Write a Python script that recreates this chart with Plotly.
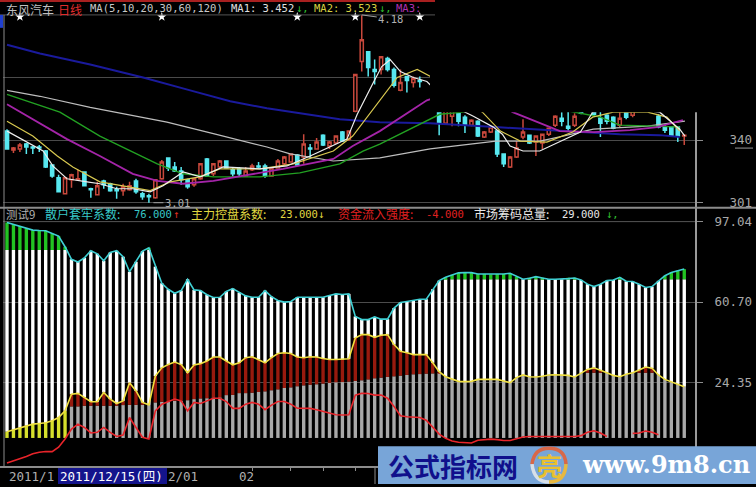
import plotly.graph_objects as go

# ---------- price panel data ----------
body_hi = [3.456,3.351,3.369,3.375,3.357,3.357,3.332,3.245,3.165,3.165,3.184,3.159,3.202,3.097,3.115,3.146,3.128,3.091,3.109,3.115,
           3.146,3.066,3.054,3.153,3.264,3.289,3.233,3.208,3.153,3.159,3.252,3.283,3.252,3.270,3.270,3.215,3.221,3.208,3.239,3.239,
           3.239,3.227,3.270,3.295,3.314,3.307,3.375,3.351,3.388,3.431,3.388,3.425,3.450,3.456,3.809,4.025,3.951,3.840,3.920,3.908,
           3.840,3.759,3.796,3.784,3.772,None,None,3.592,3.592,3.592,3.592,3.543,3.524,3.518,3.450,3.481,3.456,3.314,3.295,3.351,
           3.450,3.431,3.425,3.437,3.474,3.549,3.536,3.487,3.549,3.592,3.604,3.592,3.536,3.555,3.543,3.536,3.592,3.592,3.604,3.604,
           3.604,3.549,3.481,3.481,3.481,3.431]
body_lo = [3.345,3.338,3.345,3.357,3.351,3.351,3.233,3.177,3.078,3.066,3.153,3.153,3.115,3.091,3.060,3.122,3.084,3.084,3.084,3.091,
           3.078,3.047,3.047,3.041,3.159,3.227,3.208,3.153,3.109,3.122,3.159,3.177,3.190,3.233,3.227,3.190,3.190,3.177,3.215,3.233,
           3.177,3.177,3.227,3.252,3.264,3.245,3.295,3.345,3.345,3.369,3.363,3.382,3.394,3.406,3.580,3.889,3.852,3.827,3.840,3.840,
           3.741,3.710,3.772,3.759,3.765,None,None,3.505,3.505,3.549,3.518,3.499,3.493,3.425,3.419,3.450,3.314,3.252,3.233,3.295,
           3.419,3.382,3.388,3.382,3.437,3.493,3.518,3.474,3.493,3.567,3.592,3.561,3.505,3.518,3.474,3.493,3.543,3.555,3.592,3.592,
           3.592,3.481,3.462,3.431,3.425,3.425]
high = [3.468,3.357,3.382,3.382,3.363,3.369,3.338,3.245,3.184,3.165,3.190,3.215,3.202,3.103,3.140,3.153,3.134,3.109,3.128,3.140,
        3.159,3.078,3.066,3.153,3.276,3.289,3.264,3.233,3.159,3.159,3.252,3.289,3.258,3.276,3.270,3.233,3.233,3.233,3.252,3.264,
        3.252,3.233,3.283,3.301,3.314,3.314,3.437,3.375,3.413,3.437,3.394,3.425,3.456,3.456,3.809,4.180,3.951,3.902,3.920,3.920,
        3.852,3.840,3.796,3.796,3.796,None,None,3.604,3.592,3.592,3.592,3.555,3.530,3.524,3.456,3.487,3.456,3.314,3.301,3.394,
        3.530,3.431,3.425,3.437,3.474,3.555,3.574,3.592,3.567,3.592,3.604,3.592,3.592,3.561,3.549,3.592,3.592,3.592,3.604,3.604,
        3.604,3.561,3.499,3.481,3.481,3.437]
low = [3.345,3.320,3.326,3.314,3.314,3.326,3.227,3.165,3.078,3.066,3.103,3.146,3.115,3.041,3.060,3.097,3.078,3.035,3.054,3.084,
       3.066,3.029,3.010,3.035,3.153,3.208,3.202,3.122,3.097,3.109,3.153,3.171,3.177,3.221,3.221,3.171,3.177,3.171,3.208,3.227,
       3.165,3.171,3.221,3.245,3.264,3.239,3.252,3.283,3.345,3.363,3.345,3.375,3.394,3.394,3.574,3.827,3.796,3.747,3.809,3.827,
       3.728,3.704,3.697,3.728,3.728,None,None,3.431,3.499,3.487,3.487,3.444,3.487,3.419,3.413,3.444,3.295,3.233,3.227,3.289,
       3.406,3.375,3.301,3.345,3.425,3.481,3.487,3.456,3.481,3.561,3.592,3.549,3.419,3.499,3.468,3.481,3.530,3.543,3.592,3.592,
       3.592,3.474,3.444,3.425,3.388,3.369]
up_days = [1,2,9,10,11,14,18,19,23,24,29,30,32,33,37,38,41,42,43,44,46,48,50,51,53,54,55,58,61,63,
           68,69,72,74,75,78,79,80,82,83,84,85,88,90,95,97,98,99,100,105]

ma5_x = [0,3,5.6,7.1,9.3,12.4,14.4,17,19.5,22.2,24.2,27.3,30,33.5,39.2,43.4,47,52.7,54.3,56.8,58.1,59.4,61,63,65.1,68.7,72.3,75.4,76.8,78,80,82.6,85.7,88.9,90.8,95,101.2,104.3,105.1]
ma5_y = [3.456,3.388,3.332,3.239,3.159,3.140,3.128,3.097,3.097,3.078,3.116,3.202,3.171,3.233,3.221,3.239,3.301,3.406,3.561,3.759,3.858,3.901,3.827,3.790,3.765,3.620,3.549,3.481,3.437,3.363,3.332,3.332,3.388,3.450,3.574,3.604,3.574,3.468,3.425]
ma10_x = [0,4,7.8,10.2,14.4,18,22.2,25.3,29.9,33,39.2,44.4,50.6,53.6,55,57.8,60.5,63.6,65.1,68,71,73.7,76.5,79.6,83.7,87.7,90.8,94,99.3,102.3,104.3]
ma10_y = [3.518,3.425,3.301,3.233,3.140,3.116,3.085,3.140,3.171,3.221,3.221,3.252,3.332,3.425,3.499,3.654,3.790,3.840,3.809,3.747,3.654,3.574,3.456,3.394,3.388,3.450,3.543,3.574,3.574,3.543,3.456]
ma20_x = [0,4,9.3,14.4,19.5,23.3,27.3,32,37.7,42.8,50.6,53.6,57.8,65.1,72,78.4,84.2,85.7,91,96.6,100.8,104.8]
ma20_y = [3.623,3.530,3.406,3.301,3.190,3.146,3.128,3.146,3.184,3.221,3.283,3.363,3.456,3.648,3.740,3.574,3.481,3.456,3.450,3.462,3.481,3.524]
ma30_x = [0,5.6,8.2,14.4,19.5,23.3,27.3,32,39.2,45.4,51.6,55.2,57.8,67.1,70.7,76.5,82.6,87.3,92,95,100.5,104.3]
ma30_y = [3.685,3.611,3.574,3.425,3.326,3.252,3.190,3.171,3.171,3.196,3.252,3.332,3.375,3.561,3.574,3.623,3.604,3.580,3.543,3.493,3.487,3.481]
ma60_x = [0,5.1,12.9,18.3,24.8,32.3,40.3,43.9,50.6,57.8,65.6,75.8,82.6,85.5,90.9,99.3,105.1]
ma60_y = [3.710,3.673,3.604,3.561,3.512,3.437,3.357,3.314,3.270,3.289,3.345,3.394,3.394,3.419,3.468,3.487,3.518]
ma120_x = [0,5.1,12.9,21.1,28.4,34.6,40.3,45.4,51.6,57.8,65.6,75.7,85.7,95,101.2,104.3]
ma120_y = [3.994,3.939,3.871,3.790,3.710,3.642,3.598,3.567,3.530,3.512,3.505,3.481,3.456,3.437,3.431,3.419]
signal_x = [2,24,45,54,64]
signal_y = [4.168,4.168,4.168,4.168,4.168]
price_ticks = [3.79,3.40,3.01]
price_labels = ["","340","301"]

# ---------- indicator panel data ----------
retail = [96.6,95.8,94.9,93.9,93.2,93.0,92.9,91.7,90.5,85.7,80.0,78.8,80.7,83.9,82.5,79.4,83.1,83.9,81.2,74.4,
          78.9,83.7,85.2,76.7,69.2,66.5,64.7,65.9,71.0,66.2,65.9,64.0,62.8,62.9,65.5,66.8,65.0,63.5,62.9,62.9,
          65.9,63.2,61.4,60.7,61.0,62.9,62.9,62.9,62.9,62.9,63.7,64.4,64.1,64.4,54.2,52.8,52.8,54.0,53.0,53.0,
          58.0,60.5,61.0,61.4,62.0,62.0,66.5,70.4,71.9,73.0,73.9,74.0,74.0,73.4,73.4,73.2,73.4,73.4,73.7,72.2,
          71.0,71.5,72.2,71.6,71.0,71.0,71.0,71.3,71.6,70.7,68.8,67.7,68.8,70.4,70.7,71.9,70.1,70.0,68.8,67.3,
          67.7,70.3,72.6,74.1,74.9,75.6]
main_force = [2.2,3.1,4.0,4.9,5.6,5.9,6.2,7.1,8.6,11.6,19.1,19.5,17.6,15.7,15.7,19.9,16.9,14.9,16.1,24.3,
              20.6,15.4,14.3,27.3,31.0,32.5,33.6,32.5,28.8,32.3,32.9,34.1,35.9,35.9,34.1,32.4,33.3,35.6,36.0,34.8,
              33.3,35.6,37.5,37.8,37.5,35.9,35.6,36.0,35.9,35.2,34.8,34.8,34.8,35.1,44.5,46.0,46.0,44.8,45.7,46.0,
              41.5,38.5,37.8,37.0,37.0,37.0,33.3,29.3,27.0,25.8,24.9,24.8,24.9,25.8,25.8,25.8,25.8,25.1,24.3,26.6,
              27.8,27.0,26.9,27.2,27.8,27.9,27.8,27.6,26.9,28.5,30.3,31.0,30.0,28.8,27.6,27.0,28.1,28.8,30.0,31.4,
              30.8,27.8,25.8,24.6,23.6,22.5]
inflow = [-12.0,-11.1,-10.1,-9.0,-7.8,-7.1,-6.8,-6.8,-4.8,-1.1,3.4,5.6,4.1,1.6,1.9,4.1,1.9,0.0,0.7,8.6,
          4.1,-0.3,-1.1,11.6,14.6,15.8,16.9,16.1,11.6,15.4,14.9,16.1,17.3,17.3,15.8,12.7,12.7,14.6,15.4,14.6,
          12.1,14.2,15.8,15.8,14.6,12.8,12.7,12.7,12.1,11.3,10.6,9.8,9.7,9.8,18.7,19.5,19.4,18.7,18.7,17.3,
          13.6,9.4,8.9,8.9,8.6,7.4,4.1,1.1,-0.8,-2.0,-2.6,-2.9,-2.9,-1.7,-1.5,-1.2,-1.4,-1.8,-1.8,-1.1,
          -0.2,0.0,0.0,0.0,0.0,0.0,0.0,0.0,0.0,0.4,1.9,2.6,1.6,0.0,None,None,None,1.4,1.6,2.5,
          1.9,0.8,None,None,None,None]
chips = [0,0,0,0,0,0,0,0,0,0,13.6,13.6,13.9,13.9,13.9,13.9,13.9,13.9,14.2,14.3,
         14.3,14.3,14.3,15.4,15.7,15.8,16.1,16.1,16.4,16.9,17.2,17.3,17.6,17.7,18.7,18.8,19.6,19.6,19.8,20.1,
         20.4,20.9,21.3,21.9,22.2,22.7,23.1,23.4,23.6,23.9,24.2,24.5,24.6,24.8,25.1,25.4,25.8,26.3,26.6,26.9,
         27.2,27.5,27.8,28.1,28.2,28.4,28.5,28.7,28.8,28.8,28.8,28.8,28.8,28.8,28.8,28.8,28.8,28.8,28.8,28.8,
         28.8,28.8,28.8,28.8,28.8,28.8,28.8,28.8,28.8,28.8,28.8,28.8,28.8,28.8,28.8,28.8,28.8,28.8,28.8,28.8,
         28.8,28.8,28.8,28.8,28.8,28.8]
green_floor = [84.2]*30 + [71.0]*76
indicator_ticks = [97.04,60.70,24.35]
indicator_labels = ["97.04","60.70","24.35"]
bar_bottom = -0.65
months_ticks = [38,44,49,54]

W, H = 756, 487
X = lambda px: px/W
Y = lambda py: 1-py/H
idx = list(range(len(retail)))
fig = go.Figure()

# ---------- stacked indicator columns ----------
def seg(lo, hi, color):
    xs, base, h = [], [], []
    for i, (a, b) in enumerate(zip(lo, hi)):
        if b > a:
            xs.append(i); base.append(a); h.append(b-a)
    fig.add_trace(go.Bar(x=xs, y=h, base=base, width=0.52, marker=dict(color=color, line_width=0),
                         xaxis="x2", yaxis="y2", showlegend=False))

floor = [bar_bottom]*len(idx)
gray_top = [min(c, m) if c > 0 else bar_bottom for c, m in zip(chips, main_force)]
seg(floor, gray_top, "#a9a9a9")
seg(floor, [m if c == 0 else bar_bottom for c, m in zip(chips, main_force)], "#d6e02c")
seg(gray_top, [m if c > 0 else g for c, m, g in zip(chips, main_force, gray_top)], "#981a0e")
lower_white = [max(m, g) for m, g in zip(main_force, gray_top)]
seg(lower_white, [min(r, f) for r, f in zip(retail, green_floor)], "#ffffff")
seg(green_floor, retail, "#22c422")

for series, color in ((retail, "#3fd0d4"), (main_force, "#f0e040"), (inflow, "#e8242a")):
    fig.add_trace(go.Scatter(x=idx, y=series, mode="lines", line=dict(color=color, width=1.6),
                             xaxis="x2", yaxis="y2", showlegend=False, connectgaps=False))

# ---------- candles ----------
kx = [i for i in idx if body_hi[i] is not None]
fig.add_trace(go.Candlestick(
    x=kx,
    open=[body_lo[i] if i in up_days else body_hi[i] for i in kx],
    close=[body_hi[i] if i in up_days else body_lo[i] for i in kx],
    high=[high[i] for i in kx], low=[low[i] for i in kx],
    increasing=dict(line=dict(color="#c8483c", width=1.5), fillcolor="#000000"),
    decreasing=dict(line=dict(color="#58e8f0", width=1.5), fillcolor="#58e8f0"),
    whiskerwidth=0, xaxis="x", yaxis="y", showlegend=False))

for xs, ys, color, w in ((ma120_x, ma120_y, "#1a1a9c", 2), (ma60_x, ma60_y, "#bdbdbd", 1.2),
                         (ma30_x, ma30_y, "#22a022", 1.4), (ma20_x, ma20_y, "#a424a8", 1.8),
                         (ma10_x, ma10_y, "#d8c850", 1.2), (ma5_x, ma5_y, "#ececec", 1.2)):
    fig.add_trace(go.Scatter(x=xs, y=ys, mode="lines", line=dict(color=color, width=w),
                             xaxis="x", yaxis="y", showlegend=False))
fig.add_trace(go.Scatter(x=signal_x, y=signal_y, mode="markers", cliponaxis=False,
                         marker=dict(symbol="star", size=7, color="#ffffff"),
                         xaxis="x", yaxis="y", showlegend=False))

# ---------- decoration ----------
def line(x0, y0, x1, y1, color="#8c8c8c", width=1, layer="below"):
    fig.add_shape(type="line", xref="paper", yref="paper", x0=X(x0), y0=Y(y0), x1=X(x1), y1=Y(y1),
                  line=dict(color=color, width=width), layer=layer)
def rect(x0, y0, x1, y1, color, layer="above"):
    fig.add_shape(type="rect", xref="paper", yref="paper", x0=X(x0), y0=Y(y0), x1=X(x1), y1=Y(y1),
                  fillcolor=color, line_width=0, layer=layer)
def text(px, py, s, color, size=10.5, family="DejaVu Sans Mono", anchor="left", bold=False):
    fig.add_annotation(xref="paper", yref="paper", x=X(px), y=Y(py), text=f"<b>{s}</b>" if bold else s,
                       showarrow=False, xanchor=anchor, yanchor="middle",
                       font=dict(color=color, size=size, family=family), borderpad=0)

CJK = "Noto Sans CJK SC"
rect(430, 15, 756, 113, "#000000")
line(0, 1, 435, 1, "#a82020", 2, "above")
line(0, 15, 435, 15, "#555555", 1, "above")
rect(0, 15, 3, 28, "#2040d0")
line(4, 15, 4, 470, "#8c8c8c", 1, "above")
line(696, 113, 696, 470, "#9a9a9a", 2, "above")
line(0, 209, 756, 209, "#8c8c8c", 2, "above")
line(4, 223, 696, 223, "#4c4c4c", 1, "below")
line(0, 470, 756, 470, "#8c8c8c", 2, "above")
line(735, 149, 753, 149, "#9a9a9a", 1, "above")
line(375, 470, 375, 487, "#8c8c8c", 1, "above")

text(5, 10, "东风汽车", "#c0c0c0", 12, CJK)
text(57, 10, "日线", "#e02c2c", 12, CJK)
text(89, 8, "MA(5,10,20,30,60,120)", "#c8c8c8")
text(230, 8, "MA1: 3.452", "#e0e0e0")
text(295, 8, "↓,", "#30c030")
text(313, 8, "MA2: 3.523", "#d8d040")
text(378, 8, "↓,", "#30c030")
text(395, 8, "MA3:", "#b030b0")

text(5, 215, "测试9", "#b0b0b0", 11.5, CJK)
text(44, 215, "散户套牢系数:", "#38c8c8", 12, CJK)
text(133, 215, "76.000", "#38c8c8")
text(172, 215, "↑", "#e03020")
text(190, 215, "主力控盘系数:", "#e0d840", 12, CJK)
text(279, 215, "23.000↓", "#e0d840")
text(337, 215, "资金流入强度:", "#e02020", 12, CJK)
text(425, 215, "-4.000", "#e02020")
text(473, 215, "市场筹码总量:", "#e8e8e8", 12, CJK)
text(561, 215, "29.000", "#e8e8e8")
text(605, 215, "↓,", "#30c030")

fig.add_annotation(xref="x", yref="y", x=55, y=4.18, ax=29, ay=4, text="4.18", showarrow=True, arrowhead=0,
                   arrowcolor="#a0a0a0", arrowwidth=1, font=dict(color="#b0b0b0", size=10.5, family="DejaVu Sans Mono"))
fig.add_annotation(xref="x", yref="y", x=22.7, y=3.01, ax=24, ay=0, text="3.01", showarrow=True, arrowhead=0,
                   arrowcolor="#a0a0a0", arrowwidth=1, font=dict(color="#b0b0b0", size=10.5, family="DejaVu Sans Mono"))

# date bar
text(8, 479, "2011/1", "#b0b0b0", 12.5, "DejaVu Sans Mono")
rect(58, 471, 167, 487, "#14148c", "below")
text(59, 479, "2011/12/15(四)", "#ffffff", 12.5, "DejaVu Sans Mono, Noto Sans CJK SC")
text(167, 479, "2/01", "#b0b0b0", 12.5, "DejaVu Sans Mono")
text(238, 479, "02", "#b0b0b0", 12.5, "DejaVu Sans Mono")

# watermark
rect(378, 449, 756, 487, "#78a5d8")
text(387, 468, "公式指标网", "#10108c", 26, CJK, bold=True)
text(581, 467, "www.9m8.cn", "#ffffff", 24, "DejaVu Serif", bold=True)
def arc(p0, c, p1, color):
    path = f"M {X(p0[0])} {Y(p0[1])} Q {X(c[0])} {Y(c[1])} {X(p1[0])} {Y(p1[1])}"
    fig.add_shape(type="path", xref="paper", yref="paper", path=path, line=dict(color=color, width=3.5), layer="above")
arc((532, 467), (534, 451), (549, 451), "#d86848")
arc((549, 451), (565, 451), (566, 467), "#d86848")
arc((566, 467), (565, 485), (549, 485), "#e8b840")
arc((549, 485), (534, 485), (532, 467), "#d8e0e8")
text(549, 468, "亮", "#e8c030", 25, CJK, anchor="center", bold=True)

xr = [(3-7)/6.45, (696-7)/6.45]
fig.update_layout(
    width=W, height=H, margin=dict(l=0, r=0, t=0, b=0, pad=0), autosize=False,
    paper_bgcolor="#000000", plot_bgcolor="#000000", barmode="overlay", showlegend=False,
    xaxis=dict(domain=[X(3), X(696)], range=xr, visible=False, rangeslider=dict(visible=False), anchor="y"),
    xaxis2=dict(domain=[X(3), X(696)], range=xr, anchor="y2", showgrid=False, zeroline=False,
                tickmode="array", tickvals=months_ticks, ticktext=["" for _ in months_ticks],
                ticks="outside", ticklen=3, tickcolor="#8c8c8c"),
    yaxis=dict(domain=[Y(208), Y(15)], range=[2.985, 4.18], side="right", anchor="x", zeroline=False,
               tickmode="array", tickvals=price_ticks, ticktext=price_labels, ticks="outside", ticklen=6,
               tickcolor="#8c8c8c", gridcolor="#4a4a4a", gridwidth=1, ticklabelstandoff=24,
               tickfont=dict(color="#a8a8a8", size=12.5, family="DejaVu Sans Mono")),
    yaxis2=dict(domain=[Y(470), Y(210)], range=[-13.81, 102.87], side="right", anchor="x2", zeroline=False,
                tickmode="array", tickvals=indicator_ticks, ticktext=indicator_labels, ticks="outside", ticklen=6,
                tickcolor="#8c8c8c", gridcolor="#4c4c4c", gridwidth=1, ticklabelstandoff=9,
                tickfont=dict(color="#a8a8a8", size=12.5, family="DejaVu Sans Mono")),
)
fig.write_html("out.html", config={"displayModeBar": False},
               post_script="document.body.style.margin='0';document.body.style.overflow='hidden';document.body.style.background='#000';")
